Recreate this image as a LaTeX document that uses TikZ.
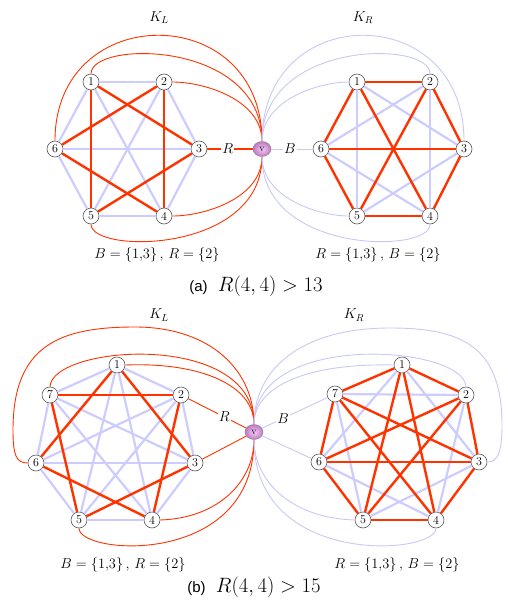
\documentclass[tikz,border=0pt]{standalone}
\usepackage{fontspec}
\usetikzlibrary{shapes.geometric,shadings}
\newfontfamily\capfont{Liberation Sans}
\definecolor{ramRed}{RGB}{255,51,0}
\definecolor{ramBlue}{RGB}{204,204,255}
\definecolor{ramLink}{RGB}{200,200,245}
\definecolor{hubIn}{RGB}{245,205,245}
\definecolor{hubOut}{RGB}{190,120,195}
\tikzset{
  vtx/.style={circle, draw=black!65, fill=white, line width=0.6pt, minimum size=16pt,
              inner sep=0pt, font=\fontsize{12}{12}\selectfont},
  hub/.style={ellipse, draw=black!50, inner color=hubIn, outer color=hubOut, minimum width=18pt,
              minimum height=15pt, inner sep=0pt, font=\fontsize{10}{10}\selectfont},
  rededge/.style={draw=ramRed, line width=2.4pt},
  blueedge/.style={draw=ramBlue, line width=2.2pt},
  redlink/.style={draw=ramRed, line width=0.9pt},
  bluelink/.style={draw=ramLink, line width=0.9pt},
  sidelabel/.style={fill=white, text=black, inner sep=1pt, font=\fontsize{14.4}{14.4}\selectfont},
  title/.style={font=\fontsize{14.4}{14.4}\selectfont},
  caption/.style={font=\fontsize{14.4}{14.4}\selectfont},
  subcap/.style={font=\fontsize{20.74}{20.74}\selectfont}
}
\begin{document}
\begin{tikzpicture}[x=1pt, y=-1pt]
\useasboundingbox (0,0) rectangle (507,602);
% ---- (a) two K_6 halves
\foreach \n/\x/\y in {1/91/82,2/164/82,3/199/149,4/164/216,5/91/216,6/55/149}
  \node[vtx] (aL\n) at (\x,\y) {\n};
\foreach \n/\x/\y in {1/357/82,2/430/82,3/464/149,4/430/216,5/357/216,6/321/149}
  \node[vtx] (aR\n) at (\x,\y) {\n};
\node[hub] (va) at (262,149) {v};
\foreach \i/\j in {1/2,2/3,3/4,4/5,5/6,6/1,1/4,2/5,3/6} \draw[blueedge] (aL\i) -- (aL\j);
\foreach \i/\j in {1/3,3/5,5/1,2/4,4/6,6/2} \draw[rededge] (aL\i) -- (aL\j);
\foreach \i/\j in {1/3,3/5,5/1,2/4,4/6,6/2} \draw[blueedge] (aR\i) -- (aR\j);
\foreach \i/\j in {1/2,2/3,3/4,4/5,5/6,6/1,1/4,2/5,3/6} \draw[rededge] (aR\i) -- (aR\j);
% links from v
\draw[redlink] (aL6.north) .. controls (55,0) and (262,0) .. (va.north);
\draw[redlink] (aL1.north) .. controls (91,40) and (262,40) .. (va.north);
\draw[redlink] (aL2.east) .. controls (205,82) and (262,100) .. (va.north);
\draw[redlink] (aL4.east) .. controls (205,216) and (262,198) .. (va.south);
\draw[redlink] (aL5.south) .. controls (91,254) and (262,254) .. (va.south);
\draw[ramRed, line width=1.6pt] (aL3) -- (va) node[sidelabel, pos=0.45] {$R$};
\draw[bluelink] (aR3.north) .. controls (464,0) and (262,0) .. (va.north);
\draw[bluelink] (aR2.north) .. controls (430,40) and (262,40) .. (va.north);
\draw[bluelink] (aR1.west) .. controls (319,82) and (262,100) .. (va.north);
\draw[bluelink] (aR5.west) .. controls (319,216) and (262,198) .. (va.south);
\draw[bluelink] (aR4.south) .. controls (430,254) and (262,254) .. (va.south);
\draw[bluelink] (va) -- (aR6) node[sidelabel, pos=0.45] {$B$};
\node[title] (kaL) at (159,18) {$K_L$};
\node[title] (kaR) at (363,18) {$K_R$};
\node[caption] (capaL) at (157,255) {$B=\{1{,}3\}\,,\,R=\{2\}$};
\node[caption] (capaR) at (378,255) {$R=\{1{,}3\}\,,\,B=\{2\}$};
\node[subcap] (suba) at (256,286) {{\capfont\fontsize{15}{15}\selectfont (a)}\enspace$R(4,4)>13$};
% ---- (b) two K_7 halves
\foreach \n/\x/\y in {1/117/365,2/181/395,3/195/463,4/152/520,5/79/520,6/36/463,7/50/395}
  \node[vtx] (bL\n) at (\x,\y) {\n};
\foreach \n/\x/\y in {1/402/365,2/466/395,3/479/462,4/436/520,5/363/520,6/319/462,7/335/394}
  \node[vtx] (bR\n) at (\x,\y) {\n};
\node[hub] (vb) at (254,432) {v};
\foreach \i/\j in {1/2,2/3,3/4,4/5,5/6,6/7,7/1,1/4,2/5,3/6,4/7,5/1,6/2,7/3}
  \draw[blueedge] (bL\i) -- (bL\j);
\foreach \i/\j in {1/3,2/4,3/5,4/6,5/7,6/1,7/2} \draw[rededge] (bL\i) -- (bL\j);
\foreach \i/\j in {1/3,2/4,3/5,4/6,5/7,6/1,7/2} \draw[blueedge] (bR\i) -- (bR\j);
\foreach \i/\j in {1/2,2/3,3/4,4/5,5/6,6/7,7/1,1/4,2/5,3/6,4/7,5/1,6/2,7/3}
  \draw[rededge] (bR\i) -- (bR\j);
% links from v
\draw[redlink] (bL6.west) .. controls (16,463) and (13,455) .. (13,430)
  .. controls (13,345) and (60,327) .. (135,327) .. controls (210,327) and (254,370) .. (vb.north);
\draw[redlink] (bL7.north) .. controls (52,345) and (254,330) .. (vb.north);
\draw[redlink] (bL1.east) .. controls (200,362) and (254,385) .. (vb.north);
\draw[redlink] (bL2) -- (vb) node[sidelabel, pos=0.62] {$R$};
\draw[redlink] (bL3) -- (vb);
\draw[redlink] (bL4.east) .. controls (220,518) and (254,480) .. (vb.south);
\draw[redlink] (bL5.south) .. controls (79,555) and (254,568) .. (vb.south);
\draw[bluelink] (bR3.east) .. controls (498,462) and (502,452) .. (502,425)
  .. controls (502,345) and (460,328) .. (390,328) .. controls (300,328) and (254,370) .. (vb.north);
\draw[bluelink] (bR2.north) .. controls (464,345) and (254,330) .. (vb.north);
\draw[bluelink] (bR1.west) .. controls (310,363) and (254,385) .. (vb.north);
\draw[bluelink] (vb) -- (bR7) node[sidelabel, pos=0.32] {$B$};
\draw[bluelink] (vb) -- (bR6);
\draw[bluelink] (bR5.west) .. controls (290,518) and (254,480) .. (vb.south);
\draw[bluelink] (bR4.south) .. controls (436,555) and (254,568) .. (vb.south);
\node[title] (kbL) at (159,315) {$K_L$};
\node[title] (kbR) at (354,315) {$K_R$};
\node[caption] (capbL) at (123,565) {$B=\{1{,}3\}\,,\,R=\{2\}$};
\node[caption] (capbR) at (397,565) {$R=\{1{,}3\}\,,\,B=\{2\}$};
\node[subcap] (subb) at (254,587) {{\capfont\fontsize{15}{15}\selectfont (b)}\enspace$R(4,4)>15$};
\end{tikzpicture}
\end{document}
